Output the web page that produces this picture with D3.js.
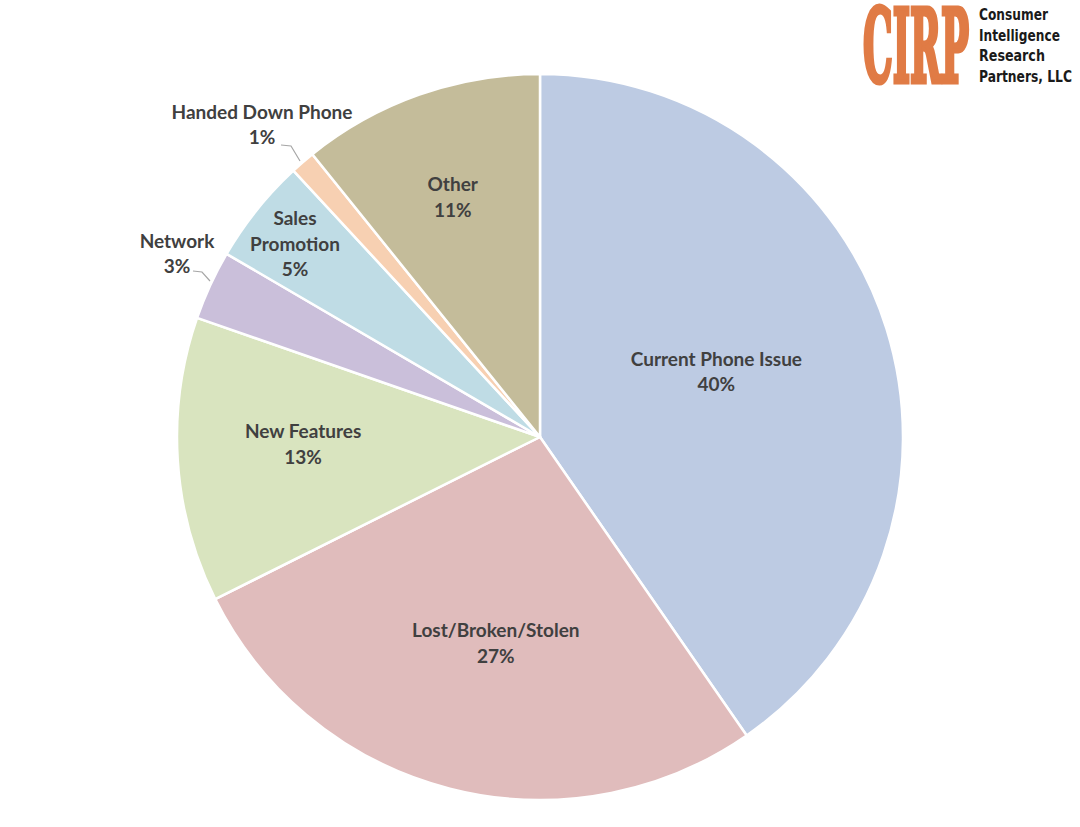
<!DOCTYPE html>
<html><head><meta charset="utf-8">
<script src="https://cdn.jsdelivr.net/npm/d3@7/dist/d3.min.js"></script>
<style>html,body{margin:0;padding:0;background:#fff;}svg{display:block;}</style>
</head><body>
<svg id="c" width="1080" height="827"></svg>
<script>
// Data (clockwise from 12 o'clock)
const categories = ["Current Phone Issue","Lost/Broken/Stolen","New Features","Network","Sales Promotion","Handed Down Phone","Other"];
const values = [40.4, 27.3, 12.7, 3.1, 4.7, 1.1, 10.8];
const percentLabels = ["40%","27%","13%","3%","5%","1%","11%"];

// Style / layout
const colors = ["#bdcbe3","#e0bcbc","#d9e4bf","#cabfda","#bfdce5","#f7d0b2","#c4bc9a"];
const labelLines = [["Current Phone Issue"],["Lost/Broken/Stolen"],["New Features"],["Network"],["Sales","Promotion"],["Handed Down Phone"],["Other"]];
const labelRadius = [188, 211, 237, 0, 312, 0, 255];
const labelShiftDeg = [-2.9, -2.3, 1.9, 0, -0.5, 0, -0.6];
const outside = {3: {text:[177,241], line:[[193,271],[202,272],[210,281]]},
                 5: {text:[262,112], line:[[281,145],[291,146],[300,161]]}};

const svg = d3.select("#c");
const cx = 540, cy = 437, R = 363;
const g = svg.append("g").attr("transform", `translate(${cx},${cy})`);
const pie = d3.pie().sort(null).value(d => d)(values);
const arc = d3.arc().innerRadius(0).outerRadius(R);

g.selectAll("path.slice").data(pie).join("path")
  .attr("class","slice")
  .attr("d", arc)
  .attr("fill", (d,i) => colors[i])
  .attr("stroke", "#fff").attr("stroke-width", 2.5).attr("stroke-linejoin","round");

const font = "Lato, 'Open Sans', sans-serif";
const fs = 19;
const lh = 25.5;
pie.forEach((d,i) => {
  const lines = labelLines[i].concat([percentLabels[i]]);
  let x, y;
  if (outside[i]) {
    x = outside[i].text[0]; y = outside[i].text[1];
    svg.append("polyline")
      .attr("points", outside[i].line.map(p => p.join(",")).join(" "))
      .attr("fill","none").attr("stroke","#a6a6a6").attr("stroke-width",1.2);
    const t = svg.append("text").attr("text-anchor","middle")
      .attr("font-family", font).attr("font-weight", 700).attr("font-size", fs).attr("fill","#404040");
    lines.forEach((l,k) => t.append("tspan").attr("x", x).attr("y", y + k*lh).attr("dy","0.35em").text(l));
  } else {
    const a = (d.startAngle + d.endAngle)/2 + labelShiftDeg[i]*Math.PI/180;
    const r = labelRadius[i];
    x = Math.sin(a)*r; y = -Math.cos(a)*r;
    const t = g.append("text").attr("text-anchor","middle")
      .attr("font-family", font).attr("font-weight", 700).attr("font-size", fs).attr("fill","#404040");
    const y0 = y - (lines.length-1)*lh/2;
    lines.forEach((l,k) => t.append("tspan").attr("x", x).attr("y", y0 + k*lh).attr("dy","0.35em").text(l));
  }
});

// Logo
const logo = svg.append("g");
const cirp = logo.append("text")
  .attr("font-family","'DejaVu Serif Condensed','DejaVu Serif', serif")
  .attr("font-weight",700).attr("font-size",70).attr("fill","#e07b45")
  .attr("stroke","#e07b45").attr("stroke-width",3.5).attr("stroke-linejoin","miter")
  .text("CIRP");
const cw = cirp.node().getComputedTextLength();
cirp.attr("transform", `translate(863,82) scale(${106/cw},1.45)`);

const logoLines = ["Consumer","Intelligence","Research","Partners, LLC"];
const logoLen = [69, 81, 66, 93];
logoLines.forEach((l,k) => {
  const t = logo.append("text")
    .attr("font-family","'DejaVu Sans Condensed','DejaVu Sans',sans-serif")
    .attr("font-weight",700).attr("font-size",14).attr("fill","#1a1a1a")
    .text(l);
  const w = t.node().getComputedTextLength();
  t.attr("transform", `translate(979,${20 + k*20.5}) scale(${logoLen[k]/w},1.15)`);
});
</script>
</body></html>
